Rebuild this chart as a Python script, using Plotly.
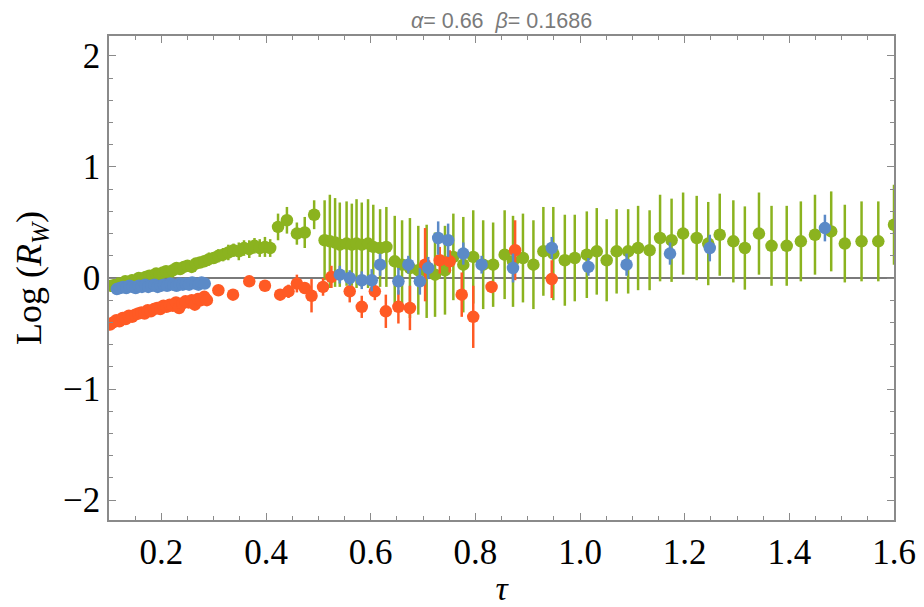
import plotly.graph_objects as go

# ---------------- data ----------------
green_x = [0.105, 0.112, 0.118, 0.125, 0.131, 0.138, 0.144, 0.151, 0.157, 0.164,
           0.170, 0.177, 0.183, 0.190, 0.196, 0.203, 0.209, 0.216, 0.222, 0.229,
           0.236, 0.243, 0.250, 0.258, 0.266, 0.274, 0.282, 0.291, 0.300, 0.309,
           0.318, 0.328, 0.338, 0.348, 0.358, 0.368, 0.378, 0.388, 0.398, 0.408,
           0.423, 0.440, 0.459, 0.474, 0.492, 0.512, 0.522, 0.532, 0.541, 0.554,
           0.564, 0.573, 0.583, 0.595, 0.605, 0.618, 0.630, 0.646, 0.660, 0.675,
           0.691, 0.707, 0.723, 0.742, 0.758, 0.777, 0.796, 0.815, 0.834, 0.856,
           0.872, 0.891, 0.911, 0.930, 0.949, 0.971, 0.990, 1.013, 1.032, 1.051,
           1.070, 1.092, 1.111, 1.133, 1.153, 1.175, 1.197, 1.223, 1.245, 1.267,
           1.293, 1.315, 1.342, 1.366, 1.395, 1.422, 1.449, 1.480, 1.506, 1.538,
           1.570, 1.600]
green_y = [-0.07, -0.06, -0.05, -0.06, -0.03, -0.04, -0.02, -0.03, 0.00, -0.01,
           0.01, 0.02, 0.02, 0.04, 0.03, 0.05, 0.06, 0.05, 0.07, 0.09,
           0.08, 0.10, 0.11, 0.10, 0.13, 0.14, 0.15, 0.17, 0.18, 0.20,
           0.21, 0.23, 0.25, 0.24, 0.27, 0.26, 0.29, 0.27, 0.28, 0.27,
           0.46, 0.52, 0.40, 0.41, 0.57, 0.34, 0.33, 0.32, 0.30, 0.31,
           0.30, 0.31, 0.30, 0.31, 0.28, 0.27, 0.28, 0.15, 0.12, 0.09,
           0.07, 0.06, 0.03, 0.07, 0.19, 0.12, 0.19, 0.12, 0.12, 0.21,
           0.15, 0.18, 0.12, 0.24, 0.22, 0.16, 0.18, 0.21, 0.24, 0.16,
           0.24, 0.24, 0.27, 0.25, 0.36, 0.34, 0.40, 0.36, 0.31, 0.39,
           0.33, 0.27, 0.40, 0.29, 0.29, 0.33, 0.39, 0.42, 0.31, 0.33,
           0.33, 0.48]
green_err = [0.03, 0.03, 0.03, 0.03, 0.03, 0.03, 0.05, 0.03, 0.03, 0.03,
             0.03, 0.03, 0.04, 0.03, 0.03, 0.04, 0.04, 0.03, 0.04, 0.04,
             0.04, 0.05, 0.04, 0.05, 0.05, 0.05, 0.05, 0.06, 0.05, 0.06,
             0.06, 0.07, 0.06, 0.08, 0.07, 0.08, 0.07, 0.08, 0.09, 0.08,
             0.12, 0.12, 0.10, 0.14, 0.13, 0.36, 0.42, 0.40, 0.38, 0.38,
             0.37, 0.40, 0.38, 0.40, 0.38, 0.35, 0.36, 0.41, 0.40, 0.45,
             0.40, 0.42, 0.38, 0.40, 0.39, 0.43, 0.42, 0.40, 0.38, 0.40,
             0.41, 0.40, 0.40, 0.40, 0.42, 0.41, 0.39, 0.39, 0.39, 0.37,
             0.38, 0.38, 0.38, 0.36, 0.39, 0.375, 0.37, 0.38, 0.375, 0.37,
             0.37, 0.375, 0.37, 0.36, 0.36, 0.36, 0.36, 0.36, 0.35, 0.36,
             0.36, 0.36]

blue_x = [0.115, 0.121, 0.127, 0.133, 0.139, 0.145, 0.151, 0.157, 0.163, 0.169,
          0.175, 0.181, 0.187, 0.193, 0.199, 0.205, 0.211, 0.217, 0.223, 0.229,
          0.235, 0.241, 0.247, 0.253, 0.259, 0.265, 0.271, 0.277, 0.283,
          0.541, 0.560, 0.583, 0.602, 0.618, 0.653, 0.672, 0.694, 0.710, 0.729,
          0.748, 0.777, 0.812, 0.872, 0.946, 1.016, 1.089, 1.172, 1.248, 1.468]
blue_y = [-0.10, -0.09, -0.08, -0.09, -0.07, -0.08, -0.09, -0.07, -0.08, -0.06,
          -0.08, -0.07, -0.06, -0.08, -0.07, -0.06, -0.07, -0.05, -0.06, -0.07,
          -0.05, -0.06, -0.05, -0.06, -0.04, -0.05, -0.06, -0.04, -0.05,
          0.03, 0.00, -0.02, -0.02, 0.12, -0.03, 0.12, -0.03, 0.09, 0.36,
          0.34, 0.22, 0.12, 0.09, 0.27, 0.10, 0.12, 0.22, 0.27, 0.45]
blue_err = [0.02, 0.02, 0.03, 0.02, 0.03, 0.02, 0.03, 0.02, 0.03, 0.02,
            0.03, 0.02, 0.03, 0.02, 0.03, 0.03, 0.02, 0.03, 0.03, 0.02,
            0.03, 0.03, 0.03, 0.03, 0.03, 0.03, 0.03, 0.03, 0.03,
            0.08, 0.07, 0.08, 0.10, 0.10, 0.12, 0.08, 0.12, 0.10, 0.15,
            0.15, 0.10, 0.08, 0.13, 0.10, 0.08, 0.10, 0.10, 0.12, 0.12]

red_x = [0.102, 0.108, 0.114, 0.120, 0.126, 0.132, 0.138, 0.144, 0.150, 0.156,
         0.162, 0.168, 0.174, 0.180, 0.186, 0.192, 0.198, 0.204, 0.210, 0.216,
         0.222, 0.228, 0.234, 0.240, 0.246, 0.252, 0.258, 0.264, 0.270, 0.276,
         0.282,
         0.287, 0.309, 0.337, 0.368, 0.398, 0.427, 0.443, 0.459, 0.474, 0.487,
         0.509, 0.525, 0.560, 0.583, 0.608, 0.629, 0.653, 0.675, 0.704, 0.732,
         0.751, 0.774, 0.796, 0.831, 0.876, 0.946]
red_y = [-0.42, -0.40, -0.38, -0.39, -0.36, -0.37, -0.34, -0.35, -0.33, -0.32,
         -0.31, -0.32, -0.29, -0.30, -0.28, -0.27, -0.28, -0.25, -0.26, -0.24,
         -0.25, -0.22, -0.27, -0.23, -0.21, -0.22, -0.20, -0.24, -0.19, -0.20,
         -0.17,
         -0.20, -0.11, -0.15, -0.03, -0.07, -0.15, -0.12, -0.05, -0.09, -0.16,
         -0.08, 0.01, -0.12, -0.26, -0.12, -0.30, -0.26, -0.27, 0.12, 0.16,
         0.15, -0.15, -0.35, -0.08, 0.25, -0.01]
red_err = [0.03, 0.03, 0.03, 0.03, 0.03, 0.03, 0.03, 0.03, 0.03, 0.03,
           0.03, 0.03, 0.03, 0.03, 0.03, 0.03, 0.03, 0.03, 0.03, 0.03,
           0.03, 0.03, 0.04, 0.03, 0.03, 0.03, 0.03, 0.04, 0.03, 0.03,
           0.03,
           0.03, 0.03, 0.03, 0.03, 0.04, 0.05, 0.06, 0.08, 0.05, 0.15,
           0.08, 0.10, 0.10, 0.10, 0.08, 0.15, 0.15, 0.20, 0.33, 0.12,
           0.10, 0.20, 0.28, 0.05, 0.27, 0.17]

x_ticks = [0.2, 0.4, 0.6, 0.8, 1.0, 1.2, 1.4, 1.6]
x_tick_labels = ["0.2", "0.4", "0.6", "0.8", "1.0", "1.2", "1.4", "1.6"]
y_ticks = [-2, -1, 0, 1, 2]
y_tick_labels = ["\u22122", "\u22121", "0", "1", "2"]

GREEN = "#8BB31F"
BLUE = "#5B8AC7"
RED = "#FF5A24"
SERIF = "Liberation Serif, Times New Roman, serif"

fig = go.Figure()


def add_series(xs, ys, errs, color):
    fig.add_trace(go.Scatter(
        x=xs, y=ys, mode="markers",
        marker=dict(color=color, size=12.5, line=dict(width=0)),
        error_y=dict(type="data", array=errs, visible=True, color=color,
                     thickness=2.5, width=0),
        showlegend=False, hoverinfo="x+y",
    ))


add_series(green_x, green_y, green_err, GREEN)
add_series(red_x, red_y, red_err, RED)
add_series(blue_x, blue_y, blue_err, BLUE)

axis_common = dict(
    showline=True, linecolor="#8a8a8a", linewidth=1.5, mirror="allticks",
    ticks="inside", tickcolor="#8a8a8a", tickwidth=1.2, ticklen=7,
    showgrid=False, automargin=False,
    tickfont=dict(family=SERIF, size=35, color="black"),
)

fig.update_layout(
    width=924, height=607,
    margin=dict(l=109, r=30, t=36, b=87),
    paper_bgcolor="white", plot_bgcolor="white",
    title=dict(
        text="<i>\u03b1</i>= 0.66  <i>\u03b2</i>= 0.1686",
        x=(109 + 894) / 2 / 924, xanchor="center", y=1 - 20 / 607, yanchor="middle",
        font=dict(family="Liberation Sans, Arial, sans-serif", size=21.5, color="#7a7a7a"),
    ),
    xaxis=dict(
        range=[0.1, 1.6], tickvals=x_ticks, ticktext=x_tick_labels,
        zeroline=False,
        minor=dict(ticks="inside", ticklen=4, dtick=0.05, tick0=0, tickcolor="#8a8a8a", tickwidth=1),
        title=dict(text="<i>\u03c4</i>", standoff=14,
                   font=dict(family=SERIF, size=34, color="black")),
        **axis_common,
    ),
    yaxis=dict(
        range=[-2.18, 2.18], tickvals=y_ticks, ticktext=y_tick_labels,
        zeroline=True, zerolinecolor="#7a7a7a", zerolinewidth=2,
        minor=dict(ticks="inside", ticklen=4, dtick=0.2, tick0=0, tickcolor="#8a8a8a", tickwidth=1),
        title=dict(text="Log (<i>R</i><sub><i>W</i></sub>)", standoff=10,
                   font=dict(family=SERIF, size=36, color="black")),
        **axis_common,
    ),
)

fig.write_html("out.html", post_script="document.body.style.margin='0';",
               config={"displayModeBar": False})
